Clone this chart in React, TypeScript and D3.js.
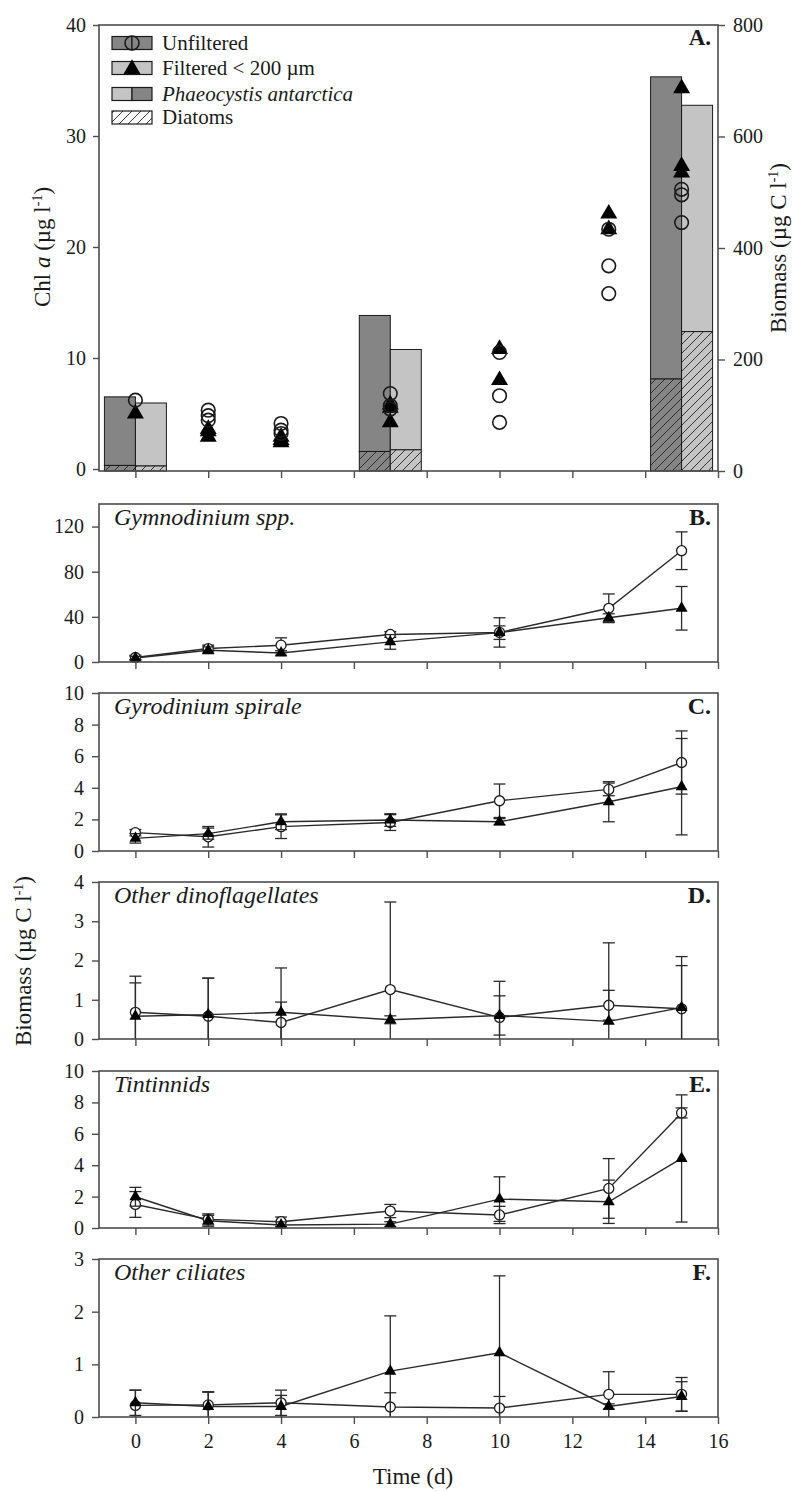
import React, { useEffect, useRef } from "react";
import * as d3 from "d3";

// sampling days (d)
const days = [0, 2, 4, 7, 10, 13, 15];
const timeTicks = [0, 2, 4, 6, 8, 10, 12, 14, 16];

// A. carbon biomass bars (µg C l-1): diatoms at the bottom, Phaeocystis stacked on top
const barDays = [0, 7, 15];
const diatomsUnfiltered = [10, 35, 165];
const diatomsFiltered = [9, 38, 250];
const phaeoUnfiltered = [123, 244, 542];
const phaeoFiltered = [113, 180, 406];

// A. Chl a replicates (µg l-1), one list per sampling day
const chlUnfiltered = [
  [6.2], [5.3, 4.8, 4.4], [4.1, 3.5, 3.2], [6.8, 5.7, 5.4],
  [10.5, 6.6, 4.2], [21.6, 18.3, 15.8], [25.2, 24.7, 22.2],
];
const chlFiltered = [
  [5.0], [3.6, 3.4, 2.9], [2.9, 2.6, 2.4], [5.8, 5.5, 4.2],
  [10.8, 8.0], [23.0, 21.6], [34.3, 27.3, 26.7],
];
const chlTicks = [0, 10, 20, 30, 40];
const biomassTicks = [0, 200, 400, 600, 800];

// B-F. microzooplankton biomass (µg C l-1), mean and SD
const gymUnfiltered = [4, 11.9, 14.9, 24.4, 26.2, 47.6, 98.6];
const gymUnfilteredSd = [2, 3, 6.5, 2.5, 13, 12.7, 16.7];
const gymFiltered = [3.5, 10.4, 8, 17.8, 26, 39.2, 47.6];
const gymFilteredSd = [1.5, 3, 2, 6.5, 6, 3.5, 19.3];

const gyroUnfiltered = [1.16, 0.9, 1.54, 1.8, 3.18, 3.9, 5.6];
const gyroUnfilteredSd = [0.2, 0.65, 0.75, 0.5, 1.06, 0.4, 2.0];
const gyroFiltered = [0.8, 1.1, 1.85, 1.96, 1.85, 3.12, 4.07];
const gyroFilteredSd = [0.3, 0.35, 0.5, 0.4, 0.2, 1.27, 3.05];

const dinoUnfiltered = [0.68, 0.58, 0.42, 1.26, 0.55, 0.86, 0.77];
const dinoUnfilteredSd = [0.92, 0.97, 0.52, 2.23, 0.92, 0.38, 1.1];
const dinoFiltered = [0.58, 0.62, 0.68, 0.49, 0.6, 0.45, 0.8];
const dinoFilteredSd = [0.85, 0.93, 1.13, 0.1, 0.5, 2.0, 1.3];

const tinUnfiltered = [1.5, 0.55, 0.4, 1.08, 0.83, 2.52, 7.33];
const tinUnfilteredSd = [0.82, 0.35, 0.3, 0.42, 0.55, 1.9, 0.32];
const tinFiltered = [1.99, 0.46, 0.19, 0.25, 1.84, 1.67, 4.43];
const tinFilteredSd = [0.6, 0.35, 0.2, 0.15, 1.42, 1.38, 4.05];

const cilUnfiltered = [0.22, 0.23, 0.27, 0.19, 0.17, 0.43, 0.43];
const cilUnfilteredSd = [0.29, 0.25, 0.24, 0.27, 0.22, 0.43, 0.32];
const cilFiltered = [0.27, 0.2, 0.2, 0.87, 1.22, 0.2, 0.39];
const cilFilteredSd = [0.24, 0.27, 0.21, 1.05, 1.46, 0.05, 0.28];

const panelNames = ["Gymnodinium spp.", "Gyrodinium spirale", "Other dinoflagellates", "Tintinnids", "Other ciliates"];
const panelLetters = ["B.", "C.", "D.", "E.", "F."];
const panelMax = [140, 10, 4, 10, 3];
const panelTicks = [[0, 40, 80, 120], [0, 2, 4, 6, 8, 10], [0, 1, 2, 3, 4], [0, 2, 4, 6, 8, 10], [0, 1, 2, 3]];

const panels = [
  [gymUnfiltered, gymUnfilteredSd, gymFiltered, gymFilteredSd],
  [gyroUnfiltered, gyroUnfilteredSd, gyroFiltered, gyroFilteredSd],
  [dinoUnfiltered, dinoUnfilteredSd, dinoFiltered, dinoFilteredSd],
  [tinUnfiltered, tinUnfilteredSd, tinFiltered, tinFilteredSd],
  [cilUnfiltered, cilUnfilteredSd, cilFiltered, cilFilteredSd],
].map(([um, us, fm, fs], i) => ({
  name: panelNames[i], letter: panelLetters[i], max: panelMax[i], ticks: panelTicks[i],
  unfiltered: um, unfilteredSd: us, filtered: fm, filteredSd: fs,
}));

// layout
const W = 792;
const H = 1491;
const LEFT = 99;
const RIGHT = 718;
const panelTops = [504, 693, 882, 1071, 1259];
const panelBottoms = [662, 851, 1039, 1228, 1417];
const FONT = "'Liberation Serif', 'Times New Roman', Times, serif";
const INK = "#1a1a1a";
const FRAME = "#4d4d4d";
const DARK = "#858585";
const LIGHT = "#c4c4c4";
const intFormat = d3.format("d");

const x = d3.scaleLinear().domain([-1, 16]).range([LEFT, RIGHT]);
const triangle = (size) => d3.symbol(d3.symbolTriangle, size)();

function styleAxis(g) {
  g.select(".domain").remove();
  g.attr("font-family", FONT).attr("font-size", 20);
  g.selectAll("line").attr("stroke", FRAME).attr("stroke-width", 1.4);
  g.selectAll("text").attr("fill", INK);
}

function frame(svg, top, bottom) {
  svg.append("rect")
    .attr("x", LEFT).attr("y", top)
    .attr("width", RIGHT - LEFT).attr("height", bottom - top)
    .attr("fill", "none").attr("stroke", FRAME).attr("stroke-width", 1.6);
}

function addPatterns(svg) {
  const defs = svg.append("defs");
  [["hatch-dark", DARK], ["hatch-light", LIGHT], ["hatch-white", "#fff"]].forEach(([id, bg]) => {
    const p = defs.append("pattern").attr("id", id)
      .attr("patternUnits", "userSpaceOnUse").attr("width", 9).attr("height", 9);
    p.append("rect").attr("width", 9).attr("height", 9).attr("fill", bg);
    p.append("path").attr("d", "M-2,2 l4,-4 M0,9 l9,-9 M7,11 l4,-4")
      .attr("stroke", "#222").attr("stroke-width", 0.9);
  });
}

function addTitle(svg, cx, cy, pieces) {
  const text = svg.append("text")
    .attr("transform", `translate(${cx},${cy}) rotate(-90)`)
    .attr("text-anchor", "middle")
    .attr("font-family", FONT).attr("font-size", 23).attr("fill", INK);
  let raised = false;
  pieces.forEach((p) => {
    const ts = text.append("tspan").text(p.t);
    if (p.italic) ts.attr("font-style", "italic");
    if (p.sup) {
      ts.attr("font-size", 14).attr("dy", -8);
      raised = true;
    } else if (raised) {
      ts.attr("dy", 8);
      raised = false;
    }
  });
}

function drawPanelA(svg) {
  const top = 25;
  const bottom = 471;
  const chl = d3.scaleLinear().domain([0, 40]).range([469, top]);
  const bio = d3.scaleLinear().domain([0, 800]).range([bottom, top]);
  const barW = 31;

  const bars = barDays.flatMap((d, i) => [
    { x0: x(d) - barW, diatoms: diatomsUnfiltered[i], phaeo: phaeoUnfiltered[i], fill: DARK, hatch: "url(#hatch-dark)" },
    { x0: x(d), diatoms: diatomsFiltered[i], phaeo: phaeoFiltered[i], fill: LIGHT, hatch: "url(#hatch-light)" },
  ]);

  const g = svg.append("g");
  g.selectAll("rect.phaeo").data(bars).join("rect").attr("class", "phaeo")
    .attr("x", (d) => d.x0).attr("width", barW)
    .attr("y", (d) => bio(d.diatoms + d.phaeo))
    .attr("height", (d) => bio(d.diatoms) - bio(d.diatoms + d.phaeo))
    .attr("fill", (d) => d.fill).attr("stroke", INK).attr("stroke-width", 1);
  g.selectAll("rect.diatoms").data(bars).join("rect").attr("class", "diatoms")
    .attr("x", (d) => d.x0).attr("width", barW)
    .attr("y", (d) => bio(d.diatoms))
    .attr("height", (d) => bio(0) - bio(d.diatoms))
    .attr("fill", (d) => d.hatch).attr("stroke", INK).attr("stroke-width", 1);

  const flat = (lists) => lists.flatMap((vals, i) => vals.map((v) => ({ day: days[i], v })));

  g.selectAll("path.tri").data(flat(chlFiltered)).join("path").attr("class", "tri")
    .attr("d", triangle(125))
    .attr("transform", (d) => `translate(${x(d.day)},${chl(d.v)})`)
    .attr("fill", "#000");
  g.selectAll("circle.unf").data(flat(chlUnfiltered)).join("circle").attr("class", "unf")
    .attr("cx", (d) => x(d.day)).attr("cy", (d) => chl(d.v)).attr("r", 6.8)
    .attr("fill", "none").attr("stroke", INK).attr("stroke-width", 1.6);

  frame(svg, top, bottom);
  svg.append("g").attr("transform", `translate(${LEFT},0)`)
    .call(d3.axisLeft(chl).tickValues(chlTicks).tickSize(6).tickPadding(7).tickFormat(intFormat))
    .call(styleAxis);
  svg.append("g").attr("transform", `translate(${RIGHT},0)`)
    .call(d3.axisRight(bio).tickValues(biomassTicks).tickSize(7).tickPadding(8).tickFormat(intFormat))
    .call(styleAxis);
  svg.append("g").attr("transform", `translate(0,${bottom})`)
    .call(d3.axisBottom(x).tickValues(timeTicks).tickSize(7).tickFormat(() => ""))
    .call(styleAxis);

  // legend
  const legend = [
    { y: 43, left: DARK, right: DARK, marker: "circle", label: "Unfiltered" },
    { y: 68, left: LIGHT, right: LIGHT, marker: "triangle", label: "Filtered < 200 µm" },
    { y: 94, left: LIGHT, right: DARK, marker: null, label: "Phaeocystis antarctica", italic: true },
    { y: 117.5, left: null, right: null, marker: null, label: "Diatoms" },
  ];
  const lg = svg.append("g");
  legend.forEach((row) => {
    if (row.left) {
      lg.append("rect").attr("x", 112).attr("y", row.y - 6.5).attr("width", 20).attr("height", 13)
        .attr("fill", row.left).attr("stroke", INK).attr("stroke-width", 1.2);
      lg.append("rect").attr("x", 132).attr("y", row.y - 6.5).attr("width", 20).attr("height", 13)
        .attr("fill", row.right).attr("stroke", INK).attr("stroke-width", 1.2);
    } else {
      lg.append("rect").attr("x", 112).attr("y", row.y - 6.5).attr("width", 40).attr("height", 13)
        .attr("fill", "url(#hatch-white)").attr("stroke", INK).attr("stroke-width", 1.2);
    }
    if (row.marker === "circle") {
      lg.append("circle").attr("cx", 132).attr("cy", row.y).attr("r", 7)
        .attr("fill", "none").attr("stroke", INK).attr("stroke-width", 1.6);
    } else if (row.marker === "triangle") {
      lg.append("path").attr("d", triangle(125))
        .attr("transform", `translate(132,${row.y + 1})`).attr("fill", "#000");
    }
    lg.append("text").attr("x", 162).attr("y", row.y + 6.5)
      .attr("font-family", FONT).attr("font-size", 21).attr("fill", INK)
      .attr("font-style", row.italic ? "italic" : "normal")
      .text(row.label);
  });

  svg.append("text").attr("x", 711).attr("y", 45).attr("text-anchor", "end")
    .attr("font-family", FONT).attr("font-size", 23).attr("font-weight", "bold").attr("fill", INK)
    .text("A.");
}

function drawTimePanel(svg, p, i, last) {
  const top = panelTops[i];
  const bottom = panelBottoms[i];
  const y = d3.scaleLinear().domain([0, p.max]).range([bottom, top]);
  const g = svg.append("g");

  const line = d3.line().x((_, k) => x(days[k])).y((v) => y(v));
  [p.unfiltered, p.filtered].forEach((vals) => {
    g.append("path").attr("d", line(vals))
      .attr("fill", "none").attr("stroke", "#2a2a2a").attr("stroke-width", 1.4);
  });

  const series = [
    { mean: p.unfiltered, sd: p.unfilteredSd, marker: "circle" },
    { mean: p.filtered, sd: p.filteredSd, marker: "triangle" },
  ];
  series.forEach((s) => {
    const pts = s.mean.map((m, k) => ({ day: days[k], m, lo: m - s.sd[k], hi: m + s.sd[k] }));
    const eb = g.append("g").attr("stroke", "#2a2a2a").attr("stroke-width", 1.3);
    eb.selectAll("line.v").data(pts).join("line").attr("class", "v")
      .attr("x1", (d) => x(d.day)).attr("x2", (d) => x(d.day))
      .attr("y1", (d) => y(Math.max(0, d.lo))).attr("y2", (d) => y(d.hi));
    eb.selectAll("line.hi").data(pts).join("line").attr("class", "hi")
      .attr("x1", (d) => x(d.day) - 6).attr("x2", (d) => x(d.day) + 6)
      .attr("y1", (d) => y(d.hi)).attr("y2", (d) => y(d.hi));
    eb.selectAll("line.lo").data(pts.filter((d) => d.lo > 0)).join("line").attr("class", "lo")
      .attr("x1", (d) => x(d.day) - 6).attr("x2", (d) => x(d.day) + 6)
      .attr("y1", (d) => y(d.lo)).attr("y2", (d) => y(d.lo));

    if (s.marker === "circle") {
      g.selectAll("circle.m").data(pts).join("circle").attr("class", "m")
        .attr("cx", (d) => x(d.day)).attr("cy", (d) => y(d.m)).attr("r", 5)
        .attr("fill", "#fff").attr("stroke", INK).attr("stroke-width", 1.3);
    } else {
      g.selectAll("path.m").data(pts).join("path").attr("class", "m")
        .attr("d", triangle(62))
        .attr("transform", (d) => `translate(${x(d.day)},${y(d.m)})`)
        .attr("fill", "#000");
    }
  });

  frame(svg, top, bottom);
  svg.append("g").attr("transform", `translate(${LEFT},0)`)
    .call(d3.axisLeft(y).tickValues(p.ticks).tickSize(7).tickPadding(8).tickFormat(intFormat))
    .call(styleAxis);
  svg.append("g").attr("transform", `translate(0,${bottom})`)
    .call(d3.axisBottom(x).tickValues(timeTicks).tickSize(7).tickPadding(10)
      .tickFormat(last ? intFormat : () => ""))
    .call(styleAxis);

  svg.append("text").attr("x", 114).attr("y", top + 21)
    .attr("font-family", FONT).attr("font-size", 24).attr("font-style", "italic").attr("fill", INK)
    .text(p.name);
  svg.append("text").attr("x", 711).attr("y", top + 21).attr("text-anchor", "end")
    .attr("font-family", FONT).attr("font-size", 24).attr("font-weight", "bold").attr("fill", INK)
    .text(p.letter);
}

export default function App() {
  const ref = useRef(null);

  useEffect(() => {
    const svg = d3.select(ref.current);
    svg.selectAll("*").remove();
    addPatterns(svg);
    drawPanelA(svg);
    panels.forEach((p, i) => drawTimePanel(svg, p, i, i === panels.length - 1));

    addTitle(svg, 50, 247, [{ t: "Chl " }, { t: "a", italic: true }, { t: " (µg l" }, { t: "-1", sup: true }, { t: ")" }]);
    addTitle(svg, 786, 248, [{ t: "Biomass (µg C l" }, { t: "-1", sup: true }, { t: ")" }]);
    addTitle(svg, 31, 961, [{ t: "Biomass (µg C l" }, { t: "-1", sup: true }, { t: ")" }]);

    svg.append("text").attr("x", 413).attr("y", 1484).attr("text-anchor", "middle")
      .attr("font-family", FONT).attr("font-size", 23).attr("fill", INK)
      .text("Time (d)");
  }, []);

  return (
    <svg
      ref={ref}
      width={W}
      height={H}
      style={{ position: "absolute", left: 0, top: 0, background: "#fff", display: "block" }}
    />
  );
}
